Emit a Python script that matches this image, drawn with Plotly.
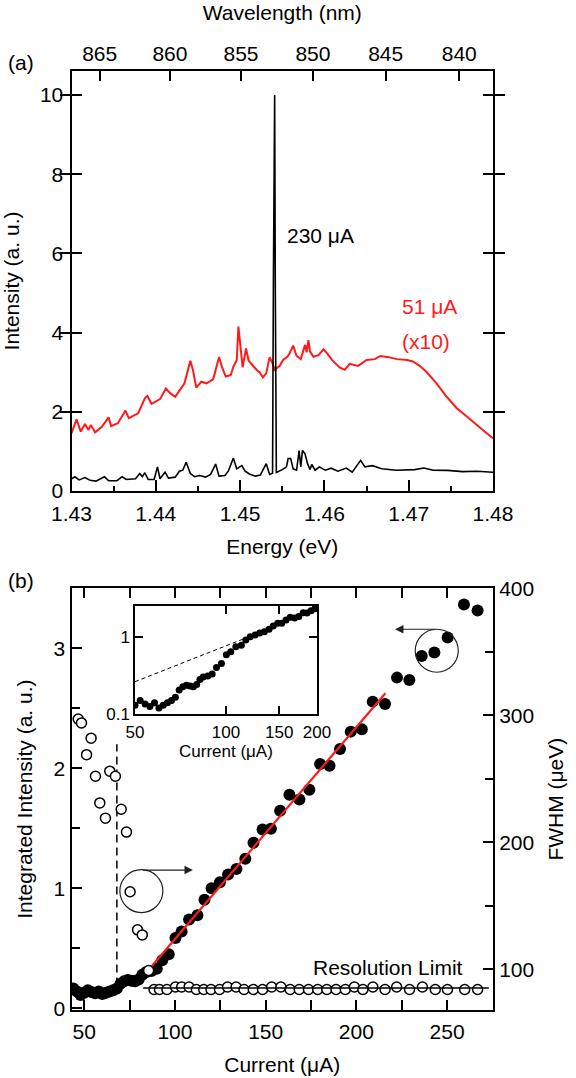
import math
import plotly.graph_objects as go

# ---------------- (a) electroluminescence spectra ----------------
energy_230 = [1.4300, 1.4304, 1.4309, 1.4316, 1.4322, 1.4329, 1.4339, 1.4344, 1.4354, 1.4360,
              1.4365, 1.4376, 1.4381, 1.4384, 1.4387, 1.4391, 1.4398, 1.4402, 1.4405, 1.4411,
              1.4415, 1.4423, 1.4428, 1.4432, 1.4436, 1.4441, 1.4446, 1.4452, 1.4459, 1.4465,
              1.4471, 1.4475, 1.4482, 1.4486, 1.4492, 1.4496, 1.4502, 1.4506, 1.4511, 1.4518,
              1.4524, 1.4531, 1.4535, 1.45385, 1.45395, 1.4541, 1.45418, 1.4543, 1.4550, 1.4555,
              1.4557, 1.4560, 1.4563, 1.4567, 1.4570, 1.4572, 1.4574, 1.4577, 1.4580, 1.4583,
              1.4585, 1.4589, 1.4594, 1.4601, 1.4608, 1.4616, 1.4626, 1.4633, 1.4643, 1.4648,
              1.4657, 1.4668, 1.4685, 1.4698, 1.4707, 1.4718, 1.4729, 1.4746, 1.4764, 1.4781,
              1.4800]
intensity_230 = [0.31, 0.36, 0.28, 0.34, 0.27, 0.25, 0.36, 0.26, 0.26, 0.36,
                 0.29, 0.31, 0.44, 0.36, 0.46, 0.29, 0.29, 0.61, 0.31, 0.475,
                 0.325, 0.35, 0.50, 0.525, 0.725, 0.44, 0.36, 0.39, 0.35, 0.42,
                 0.68, 0.375, 0.39, 0.50, 0.83, 0.56, 0.64, 0.50, 0.43, 0.375,
                 0.40, 0.69, 0.42, 0.45, 5.3, 10.0, 5.0, 0.47, 0.54, 0.61,
                 0.82, 0.82, 0.56, 0.525, 1.02, 0.61, 1.025, 0.94, 0.69, 0.54,
                 0.67, 0.525, 0.61, 0.525, 0.575, 0.50, 0.58, 0.475, 0.775, 0.61,
                 0.64, 0.56, 0.525, 0.525, 0.54, 0.58, 0.525, 0.52, 0.49, 0.50,
                 0.475]

# 51 uA spectrum, multiplied by 10
energy_51 = [1.4300, 1.4306, 1.4311, 1.4316, 1.4320, 1.4323, 1.4328, 1.4336, 1.4344, 1.4347,
             1.4355, 1.4364, 1.4368, 1.4379, 1.4387, 1.4390, 1.4395, 1.4405, 1.4412, 1.4417,
             1.4423, 1.4434, 1.4441, 1.4444, 1.4448, 1.4454, 1.4460, 1.4468, 1.4475, 1.4479,
             1.4483, 1.4489, 1.4492, 1.4496, 1.4498, 1.4501, 1.4503, 1.4507, 1.4510, 1.4513,
             1.4516, 1.4520, 1.4523, 1.4527, 1.4531, 1.4535, 1.4538, 1.4541, 1.4547, 1.4551,
             1.4556, 1.4558, 1.4563, 1.4567, 1.4572, 1.4577, 1.4579, 1.4581, 1.4583, 1.4587,
             1.4593, 1.4599, 1.4603, 1.4609, 1.4618, 1.4624, 1.4630, 1.4640, 1.4650, 1.4660,
             1.4666, 1.4676, 1.4686, 1.4698, 1.4705, 1.4713, 1.4721, 1.4733, 1.4745, 1.4757,
             1.4769, 1.4780, 1.4790, 1.4800]
intensity_51 = [1.46, 1.81, 1.50, 1.69, 1.54, 1.67, 1.48, 1.62, 1.86, 1.64,
                1.71, 2.03, 1.84, 1.96, 2.34, 2.40, 2.20, 2.32, 2.59, 2.47,
                2.38, 2.72, 3.29, 3.06, 2.61, 2.76, 2.72, 2.82, 3.38, 3.10,
                2.89, 2.93, 3.14, 3.30, 4.15, 3.50, 3.12, 3.60, 3.30, 3.22,
                3.14, 3.05, 3.00, 2.87, 2.97, 3.38, 3.25, 3.06, 3.16, 3.31,
                3.39, 3.45, 3.67, 3.41, 3.33, 3.69, 3.50, 3.81, 3.52, 3.39,
                3.43, 3.58, 3.48, 3.31, 3.12, 3.06, 3.21, 3.16, 3.31, 3.33,
                3.41, 3.38, 3.33, 3.31, 3.27, 3.16, 3.01, 2.72, 2.38, 2.09,
                1.88, 1.67, 1.50, 1.33]

wavelength_ticks = [865, 860, 855, 850, 845, 840]
HC_EV_NM = 1239.84

# ---------------- (b) light-current characteristics ----------------
current = [44, 46, 48, 50, 52, 54, 56, 58, 60, 62,
           64, 66, 68, 70, 72, 74, 76, 78, 80, 82,
           84, 87, 90, 93, 96.6, 100.3, 103.7, 107.8, 112.4, 116.3,
           120.2, 124.8, 129.3, 133.9, 138.8, 143.3, 148.3, 152.9, 158.0, 163.1,
           168.6, 174.1, 180.0, 185.2, 191.0, 196.9, 203.0, 209.0, 215.8, 222.4,
           229.2, 236.0, 243.0, 250.3, 259.3, 266.8]
integrated = [0.165, 0.14, 0.11, 0.13, 0.15, 0.135, 0.125, 0.14, 0.12, 0.13,
              0.14, 0.15, 0.165, 0.205, 0.225, 0.235, 0.23, 0.225, 0.24, 0.28,
              0.30, 0.31, 0.33, 0.40, 0.45, 0.585, 0.64, 0.74, 0.775, 0.905,
              1.00, 1.05, 1.115, 1.16, 1.245, 1.38, 1.49, 1.495, 1.645, 1.78,
              1.74, 1.82, 2.035, 2.02, 2.16, 2.305, 2.325, 2.555, 2.535, 2.755,
              2.735, 2.935, 2.965, 3.09, 3.365, 3.315]

fwhm_current = [46.7, 48.5, 51.3, 53.8, 56.2, 58.6, 61.7, 64.1, 67.2, 70.4,
                73.3, 75.3, 79.4, 82.0, 85.5, 88.5, 91.5, 95.6, 100.3, 103.7,
                107.8, 111.8, 115.9, 119.9, 124.6, 129.0, 133.7, 138.1, 143.2, 148.3,
                153.3, 158.4, 163.5, 168.5, 173.6, 178.7, 183.7, 188.8, 193.9, 198.9,
                203.6, 209.1, 215.8, 222.2, 229.3, 236.4, 243.5, 250.2, 259.7, 266.8]
fwhm = [297, 294, 269, 282, 252, 231, 219, 256, 252, 226,
        208, 161, 131, 127, 99, 84, 84, 84, 86, 86,
        86, 84, 84, 84, 84, 86, 86, 84, 84, 84,
        86, 86, 84, 84, 84, 84, 84, 84, 84, 86,
        84, 86, 84, 86, 84, 86, 84, 84, 84, 84]

fit_current = [86, 216]
fit_integrated = [0.33, 2.625]
threshold_current = [68, 68]
threshold_integrated = [0.19, 2.2]
resolution_current = [82.5, 273]
resolution_fwhm = [85.3, 85.3]
guide_current = [50, 115.6]
guide_integrated = [0.262, 0.953]

FONT = "Liberation Sans, Arial, sans-serif"
W, H = 576, 1078


def px(x):
    return x / W


def py(y):
    return 1 - y / H


XDOM = [px(71.5), px(493)]
A_DOM = [py(491), py(71)]
B_DOM = [py(1010.1), py(588.2)]

axis_common = dict(showline=True, linecolor="black", linewidth=2, ticks="inside",
                   tickcolor="black", tickwidth=2, showgrid=False, zeroline=False,
                   automargin=False,
                   tickfont=dict(size=21, color="black", family=FONT),
                   title_font=dict(size=21, color="black", family=FONT))

fig = go.Figure()

# spectra
fig.add_trace(go.Scatter(x=energy_51, y=intensity_51, mode="lines",
                         line=dict(color="#ff1a1a", width=2), xaxis="x", yaxis="y",
                         showlegend=False))
fig.add_trace(go.Scatter(x=energy_230, y=intensity_230, mode="lines",
                         line=dict(color="black", width=1.6), xaxis="x", yaxis="y",
                         showlegend=False))
# invisible trace to activate the wavelength axis
fig.add_trace(go.Scatter(x=[energy_230[0]], y=[intensity_230[0]], mode="markers",
                         marker=dict(opacity=0), xaxis="x3", yaxis="y",
                         showlegend=False, hoverinfo="skip"))

# integrated intensity
fig.add_trace(go.Scatter(x=threshold_current, y=threshold_integrated, mode="lines",
                         line=dict(color="black", width=1.5, dash="8px,5px"),
                         xaxis="x2", yaxis="y2", showlegend=False))
fig.add_trace(go.Scatter(x=current, y=integrated, mode="markers",
                         marker=dict(color="black", size=12), xaxis="x2", yaxis="y2",
                         showlegend=False))
fig.add_trace(go.Scatter(x=fit_current, y=fit_integrated, mode="lines",
                         line=dict(color="#ff1a1a", width=2.2), xaxis="x2", yaxis="y2",
                         showlegend=False))
# FWHM
fig.add_trace(go.Scatter(x=fwhm_current, y=fwhm, mode="markers",
                         marker=dict(color="white", size=10,
                                     line=dict(color="black", width=1.5)),
                         xaxis="x2", yaxis="y3", showlegend=False))
fig.add_trace(go.Scatter(x=resolution_current, y=resolution_fwhm, mode="lines",
                         line=dict(color="black", width=1.5), xaxis="x2", yaxis="y3",
                         showlegend=False))

# inset (log-log)
inset = [(c, v) for c, v in zip(current, integrated) if 50 <= c <= 200]
fig.add_trace(go.Scatter(x=[c for c, _ in inset], y=[v for _, v in inset], mode="markers",
                         marker=dict(color="black", size=7), xaxis="x4", yaxis="y4",
                         showlegend=False))
fig.add_trace(go.Scatter(x=guide_current, y=guide_integrated, mode="lines",
                         line=dict(color="black", width=1, dash="4px,3px"),
                         xaxis="x4", yaxis="y4", showlegend=False))

fig.update_layout(
    width=W, height=H, margin=dict(l=0, r=0, t=0, b=0, autoexpand=False),
    paper_bgcolor="white", plot_bgcolor="white",
    font=dict(family=FONT, size=21, color="black"),
    xaxis=dict(domain=XDOM, anchor="y", range=[1.43, 1.48], dtick=0.01, tick0=1.43,
               tickformat=".2f", ticklen=11, ticklabelstandoff=3,
               minor=dict(dtick=0.005, ticklen=5, ticks="inside", tickwidth=2,
                          tickcolor="black"),
               title=dict(text="Energy (eV)"), **axis_common),
    yaxis=dict(domain=A_DOM, anchor="x", range=[0, 10.606], dtick=2, ticklen=10,
               mirror="allticks", ticklabelstandoff=2,
               title=dict(text="Intensity (a. u.)"), **axis_common),
    xaxis3=dict(overlaying="x", side="top", anchor="y", range=[1.43, 1.48],
                tickvals=[HC_EV_NM / w for w in wavelength_ticks],
                ticktext=[str(w) for w in wavelength_ticks], ticklen=10,
                title=dict(text="Wavelength (nm)"), **axis_common),
    xaxis2=dict(domain=XDOM, anchor="y2", range=[43, 275.3], dtick=50, tick0=0,
                ticklen=10, mirror="allticks", ticklabelstandoff=2,
                minor=dict(dtick=25, ticklen=6, ticks="inside", tickwidth=2,
                           tickcolor="black"),
                title=dict(text="Current (μA)"), **axis_common),
    yaxis2=dict(domain=B_DOM, anchor="x2", range=[-0.015, 3.5], dtick=1, ticklen=10,
                minor=dict(dtick=0.5, ticklen=8, ticks="inside", tickwidth=2,
                           tickcolor="black"),
                title=dict(text="Integrated Intensity (a. u.)"),
                **axis_common),
    yaxis3=dict(overlaying="y2", side="right", anchor="x2", range=[67.8, 400.1],
                dtick=100, tick0=0, ticklen=10,
                minor=dict(dtick=50, ticklen=8, ticks="inside", tickwidth=2,
                           tickcolor="black"),
                title=dict(text="FWHM (μeV)"), **axis_common),
    xaxis4=dict(domain=[px(135), px(317)], anchor="y4", type="log",
                range=[math.log10(50), math.log10(200)], tickvals=[50, 100, 150, 200],
                ticktext=["50", "100", "150", "200"], ticklen=8, mirror="allticks",
                showline=True, linecolor="black", linewidth=1.5, ticks="inside",
                tickcolor="black", tickwidth=1.5, showgrid=False, zeroline=False,
                automargin=False, ticklabelstandoff=2, tickfont=dict(size=17)),
    yaxis4=dict(domain=[py(714), py(606)], anchor="x4", type="log",
                range=[-1, 0.397], tickvals=[0.1, 1], ticktext=["0.1", "1"], ticklen=8,
                mirror="allticks", showline=True, linecolor="black", linewidth=1.5,
                ticks="inside", tickcolor="black", tickwidth=1.5, showgrid=False,
                zeroline=False, automargin=False, tickfont=dict(size=17)),
)

annotations = [
    dict(text="(a)", xref="paper", yref="paper", x=px(6), y=py(62), xanchor="left",
         yanchor="middle", showarrow=False, font=dict(size=21)),
    dict(text="(b)", xref="paper", yref="paper", x=px(6), y=py(580), xanchor="left",
         yanchor="middle", showarrow=False, font=dict(size=21)),
    dict(text="Current (μA)", xref="paper", yref="paper", x=px(226), y=py(752),
         xanchor="center", yanchor="middle", showarrow=False, font=dict(size=17)),
    dict(text="230 μA", xref="x", yref="y", x=1.4553, y=6.46, xanchor="left",
         yanchor="middle", showarrow=False, font=dict(size=21, color="black")),
    dict(text="51 μA", xref="x", yref="y", x=1.4690, y=4.67, xanchor="left",
         yanchor="middle", showarrow=False, font=dict(size=21, color="#ff1a1a")),
    dict(text="(x10)", xref="x", yref="y", x=1.4690, y=3.77, xanchor="left",
         yanchor="middle", showarrow=False, font=dict(size=21, color="#ff1a1a")),
    dict(text="Resolution Limit", xref="x2", yref="y2", x=259.8, y=0.336,
         xanchor="right", yanchor="middle", showarrow=False, font=dict(size=21)),
    # arrows pointing to the relevant axis
    dict(text="", xref="x2", yref="y2", axref="x2", ayref="y2", x=221.3, y=3.158,
         ax=244.3, ay=3.158, showarrow=True, arrowhead=2, arrowsize=1.4,
         arrowwidth=1.2, arrowcolor="#222"),
    dict(text="", xref="x2", yref="y2", axref="x2", ayref="y2", x=109.9, y=1.152,
         ax=81.5, ay=1.152, showarrow=True, arrowhead=2, arrowsize=1.4,
         arrowwidth=1.2, arrowcolor="#222"),
]
fig.update_layout(annotations=annotations)

circle_style = dict(type="circle", xref="x2", yref="y2", xsizemode="pixel",
                    ysizemode="pixel", x0=-21.5, x1=21.5, y0=-21.5, y1=21.5,
                    line=dict(color="#222", width=1.2))
fig.update_layout(shapes=[
    dict(xanchor=244.3, yanchor=2.979, **circle_style),
    dict(xanchor=81.5, yanchor=0.977, **circle_style),
])

fig.write_html("out.html")
